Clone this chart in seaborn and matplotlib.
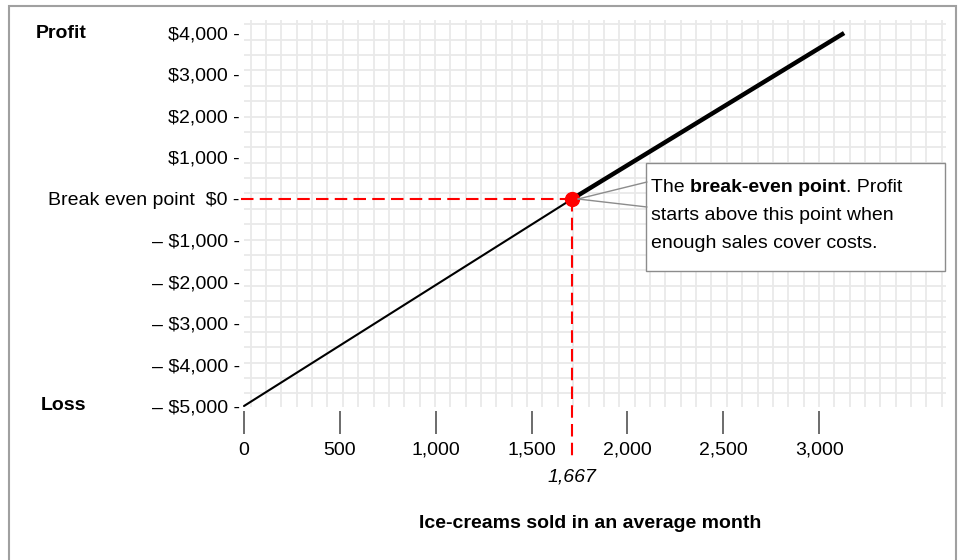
import numpy as np
import matplotlib.pyplot as plt
import seaborn as sns
from matplotlib.patches import Rectangle
from matplotlib.lines import Line2D

# values
x_ticks = [0, 500, 1000, 1500, 2000, 2500, 3000]
x_tick_labels = ['0', '500', '1,000', '1,500', '2,000', '2,500', '3,000']
y_ticks = [4000, 3000, 2000, 1000, 0, -1000, -2000, -3000, -4000, -5000]
y_tick_labels = ['$4,000 -', '$3,000 -', '$2,000 -', '$1,000 -',
                 'Break even point  $0 -', '– $1,000 -', '– $2,000 -',
                 '– $3,000 -', '– $4,000 -', '– $5,000 -']
loss_sales = [0, 1713]
loss_profit = [-5000, 0]
gain_sales = [1713, 3130]
gain_profit = [0, 4000]
break_even_x = 1713
break_even_label = '1,667'
note_lines = ['starts above this point when', 'enough sales cover costs.']

sns.set_theme(style='white')
plt.rcParams['font.family'] = ['Liberation Sans', 'DejaVu Sans']
plt.rcParams['text.color'] = 'black'
FS = 14

W, H = 962, 560
fig = plt.figure(figsize=(W / 100, H / 100), dpi=100)
fig.patch.set_facecolor('white')

# axes box in pixels, and pixel scale of the data
L, R, T, B = 244, 946, 20, 407
x0_px, x_scale = 243, 0.192       # px per sold ice-cream
y0_px, y_scale = 198.8, 0.04144   # px per dollar

def px_to_x(px):
    return (px - x0_px) / x_scale

def px_to_y(py):
    return (y0_px - py) / y_scale

ax = fig.add_axes([L / W, 1 - B / H, (R - L) / W, (B - T) / H])
ax.set_xlim(px_to_x(L), px_to_x(R))
ax.set_ylim(px_to_y(B), px_to_y(T))
ax.set_facecolor('white')
for s in ax.spines.values():
    s.set_visible(False)
ax.spines['bottom'].set_position(('outward', 3))

# graph-paper grid
cell = 15.38
ax.set_xticks([px_to_x(249.7 + k * cell) for k in range(46)], minor=True)
ax.set_yticks([px_to_y(24.3 + k * cell) for k in range(25)], minor=True)
ax.grid(which='minor', color='#e9e9e9', lw=1.3)
ax.grid(which='major', visible=False)
ax.tick_params(which='minor', length=0)

ax.set_xticks(x_ticks, x_tick_labels)
ax.set_yticks(y_ticks, y_tick_labels)
ax.tick_params(axis='x', which='major', bottom=True, length=16.5, width=1.1,
               color='#444444', pad=15, labelsize=FS, labelcolor='black')
for lab in ax.get_xticklabels():
    lab.set_va('baseline')
ax.tick_params(axis='y', which='major', left=False, length=0, pad=3,
               labelsize=FS, labelcolor='black')
ax.set_xlabel('')
ax.set_ylabel('')

# profit line
sns.lineplot(x=loss_sales, y=loss_profit, ax=ax, color='black', lw=1.5,
             clip_on=False, zorder=3)
sns.lineplot(x=gain_sales, y=gain_profit, ax=ax, color='black', lw=3.2,
             solid_capstyle='butt', zorder=3)

# break-even guides
ax.plot([px_to_x(240), break_even_x], [0, 0], color='red', lw=1.5,
        ls=(0, (6, 3)), clip_on=False, zorder=4)
ax.plot([break_even_x, break_even_x], [0, px_to_y(461)], color='red', lw=1.5,
        ls=(0, (6, 3)), clip_on=False, zorder=4)
ax.plot([break_even_x], [0], 'o', color='red', ms=10, zorder=5)
ax.text(break_even_x, px_to_y(477), break_even_label, ha='center', va='center',
        fontsize=FS, style='italic', clip_on=False)

# side labels
fig.text(36 / W, 1 - 33 / H, 'Profit', fontsize=FS, fontweight='bold', va='center')
fig.text(41 / W, 1 - 405 / H, 'Loss', fontsize=FS, fontweight='bold', va='center')
fig.text(590 / W, 1 - 524 / H, 'Ice-creams sold in an average month',
         fontsize=FS, fontweight='bold', ha='center', va='center')

# callout
for yy in (182, 207):
    fig.add_artist(Line2D([578 / W, 647 / W], [1 - 199 / H, 1 - yy / H],
                          color='#8c8c8c', lw=1))
fig.add_artist(Rectangle((646 / W, 1 - 271 / H), (945 - 646) / W, (271 - 163) / H,
                         transform=fig.transFigure, facecolor='white',
                         edgecolor='#8c8c8c', lw=1))
t1 = fig.text(651 / W, 1 - 188 / H, 'The ', fontsize=FS, va='center')
t2 = fig.text(0, 0, 'break-even point', fontsize=FS, fontweight='bold')
t3 = fig.text(0, 0, '. Profit', fontsize=FS)
fig.canvas.draw()
r = fig.canvas.get_renderer()
bb1 = t1.get_window_extent(r)
t2.set_position((bb1.x1 / W, bb1.y0 / H))
t2.set_va('bottom')
fig.canvas.draw()
bb2 = t2.get_window_extent(r)
t3.set_position((bb2.x1 / W, bb1.y0 / H))
t3.set_va('bottom')
for i, line in enumerate(note_lines):
    fig.text(651 / W, 1 - (216 + 28 * i) / H, line, fontsize=FS, va='center')

# outer frame
fig.add_artist(Rectangle((9 / W, -0.05), (956 - 9) / W, 1.05 - 6 / H,
                         transform=fig.transFigure, fill=False,
                         edgecolor='#a0a0a0', lw=1.5))

fig.savefig('out.png', dpi=100, facecolor='white')
